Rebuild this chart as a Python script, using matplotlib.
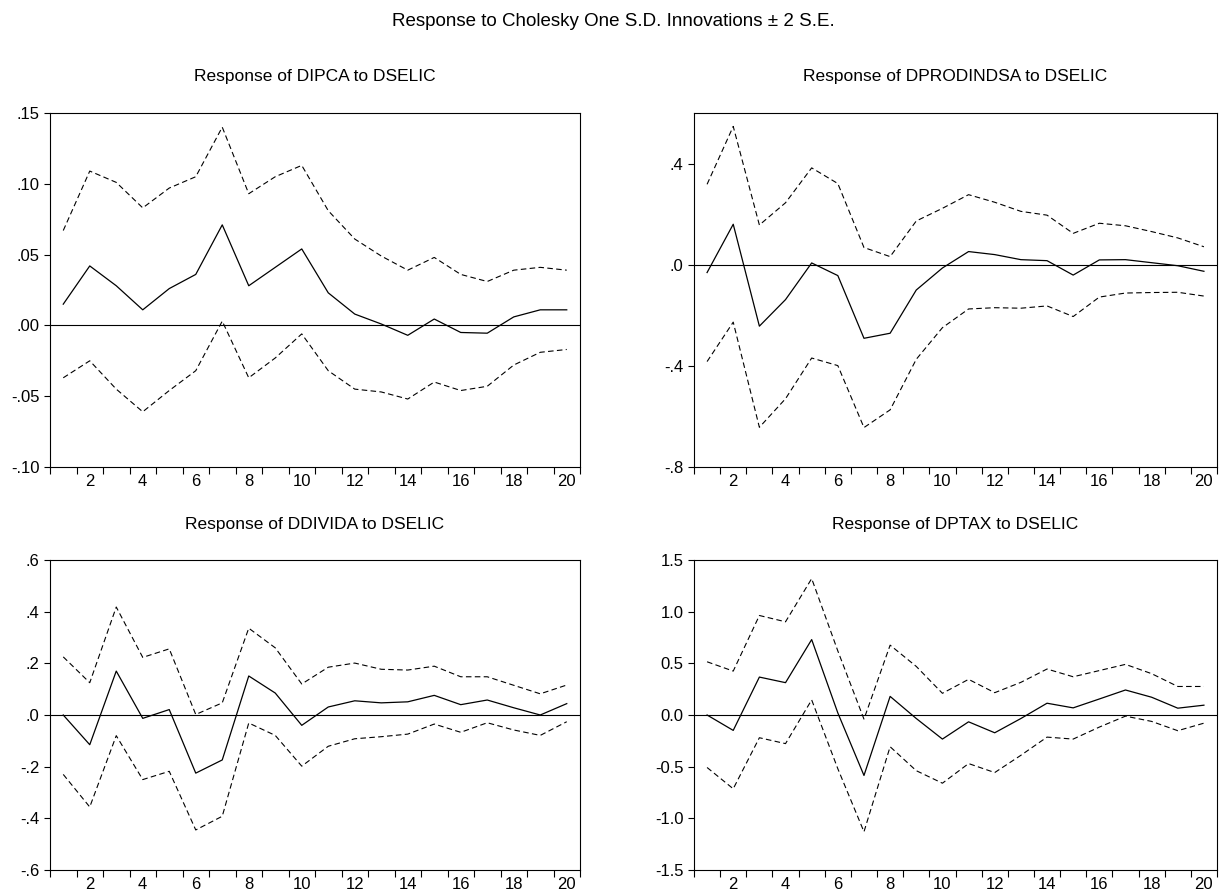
import matplotlib
matplotlib.use("Agg")
import matplotlib.pyplot as plt
import numpy as np

plt.rcParams['font.family'] = ['Liberation Sans', 'DejaVu Sans']

periods = np.arange(1, 21)

# Response of DIPCA to DSELIC
dipca = [0.015, 0.042, 0.028, 0.011, 0.026, 0.036, 0.071, 0.028, 0.041, 0.054,
         0.023, 0.008, 0.001, -0.007, 0.0045, -0.005, -0.0055, 0.006, 0.011, 0.011]
dipca_up = [0.067, 0.109, 0.101, 0.083, 0.097, 0.105, 0.140, 0.093, 0.105, 0.113,
            0.081, 0.061, 0.049, 0.039, 0.048, 0.036, 0.031, 0.039, 0.041, 0.039]
dipca_lo = [-0.037, -0.025, -0.045, -0.061, -0.046, -0.032, 0.003, -0.037, -0.023, -0.006,
            -0.032, -0.045, -0.047, -0.052, -0.040, -0.046, -0.043, -0.028, -0.019, -0.017]

# Response of DPRODINDSA to DSELIC
dprod = [-0.031, 0.160, -0.243, -0.138, 0.007, -0.043, -0.291, -0.271, -0.100, -0.013,
         0.052, 0.040, 0.020, 0.016, -0.041, 0.019, 0.020, 0.008, -0.004, -0.026]
dprod_up = [0.318, 0.547, 0.157, 0.245, 0.383, 0.321, 0.068, 0.032, 0.173, 0.223,
            0.277, 0.247, 0.211, 0.196, 0.124, 0.164, 0.154, 0.131, 0.106, 0.071]
dprod_lo = [-0.383, -0.227, -0.643, -0.530, -0.369, -0.399, -0.644, -0.574, -0.374, -0.249,
            -0.175, -0.170, -0.172, -0.163, -0.205, -0.128, -0.112, -0.110, -0.109, -0.124]

# Response of DDIVIDA to DSELIC
ddiv = [0.0, -0.115, 0.170, -0.013, 0.021, -0.225, -0.174, 0.151, 0.085, -0.040,
        0.031, 0.055, 0.047, 0.051, 0.076, 0.040, 0.058, 0.028, 0.0, 0.044]
ddiv_up = [0.225, 0.125, 0.418, 0.223, 0.256, 0.002, 0.047, 0.336, 0.260, 0.120,
           0.185, 0.201, 0.177, 0.174, 0.189, 0.148, 0.148, 0.115, 0.082, 0.116]
ddiv_lo = [-0.230, -0.356, -0.080, -0.250, -0.218, -0.445, -0.392, -0.031, -0.079, -0.198,
           -0.121, -0.092, -0.084, -0.074, -0.035, -0.067, -0.030, -0.058, -0.079, -0.026]

# Response of DPTAX to DSELIC
dptax = [0.0, -0.149, 0.367, 0.313, 0.730, 0.02, -0.585, 0.180, -0.034, -0.233,
         -0.066, -0.172, -0.034, 0.114, 0.069, 0.155, 0.242, 0.172, 0.066, 0.095]
dptax_up = [0.515, 0.425, 0.963, 0.902, 1.320, 0.62, -0.040, 0.676, 0.470, 0.210,
            0.345, 0.216, 0.316, 0.445, 0.370, 0.430, 0.490, 0.400, 0.276, 0.276]
dptax_lo = [-0.508, -0.714, -0.220, -0.277, 0.146, -0.52, -1.130, -0.307, -0.539, -0.660,
            -0.470, -0.557, -0.390, -0.214, -0.233, -0.117, -0.011, -0.062, -0.152, -0.079]

titles = ["Response of DIPCA to DSELIC", "Response of DPRODINDSA to DSELIC",
          "Response of DDIVIDA to DSELIC", "Response of DPTAX to DSELIC"]
series = [(dipca, dipca_up, dipca_lo), (dprod, dprod_up, dprod_lo),
          (ddiv, ddiv_up, ddiv_lo), (dptax, dptax_up, dptax_lo)]
ylims = [(-0.10, 0.15), (-0.8, 0.6), (-0.6, 0.6), (-1.5, 1.5)]
yticks = [[-0.10, -0.05, 0.0, 0.05, 0.10, 0.15],
          [-0.8, -0.4, 0.0, 0.4],
          [-0.6, -0.4, -0.2, 0.0, 0.2, 0.4, 0.6],
          [-1.5, -1.0, -0.5, 0.0, 0.5, 1.0, 1.5]]
ylabels = [["-.10", "-.05", ".00", ".05", ".10", ".15"],
           ["-.8", "-.4", ".0", ".4"],
           ["-.6", "-.4", "-.2", ".0", ".2", ".4", ".6"],
           ["-1.5", "-1.0", "-0.5", "0.0", "0.5", "1.0", "1.5"]]

W, H = 1226, 896
fig = plt.figure(figsize=(W / 100, H / 100), dpi=100)
fig.text(0.5, 1 - 22 / H, "Response to Cholesky One S.D. Innovations \u00b1 2 S.E.",
         ha="center", va="center", fontsize=13.5)

# pixel boxes: left, right, top, bottom
boxes = [(50, 580, 113, 467), (694, 1217, 113, 467),
         (50, 580, 560, 870), (694, 1217, 560, 870)]
title_y = [77, 77, 525, 525]

for i in range(4):
    l, r, t, b = boxes[i]
    ax = fig.add_axes([l / W, 1 - b / H, (r - l) / W, (b - t) / H])
    mid, up, lo = series[i]
    ax.plot(periods, mid, color="black", lw=0.9)
    ax.plot(periods, up, color="black", lw=0.8, dashes=(5, 3))
    ax.plot(periods, lo, color="black", lw=0.8, dashes=(5, 3))
    ax.axhline(0, color="black", lw=0.8)
    ax.set_xlim(0.5, 20.5)
    ax.set_ylim(*ylims[i])
    ax.set_yticks(yticks[i])
    ax.set_yticklabels(ylabels[i])
    ax.set_xticks(np.arange(2, 21, 2))
    ax.set_xticks(np.arange(0.5, 21, 1), minor=True)
    ax.tick_params(axis="x", which="major", length=0, labelsize=12, pad=5)
    ax.tick_params(axis="x", which="minor", length=5, direction="out", width=0.8)
    ax.tick_params(axis="y", length=4, direction="out", labelsize=12, width=0.8)
    for s in ax.spines.values():
        s.set_linewidth(0.8)
    fig.text((l + r) / 2 / W, 1 - title_y[i] / H, titles[i],
             ha="center", va="center", fontsize=12.5)

fig.savefig("out.png", dpi=100)
